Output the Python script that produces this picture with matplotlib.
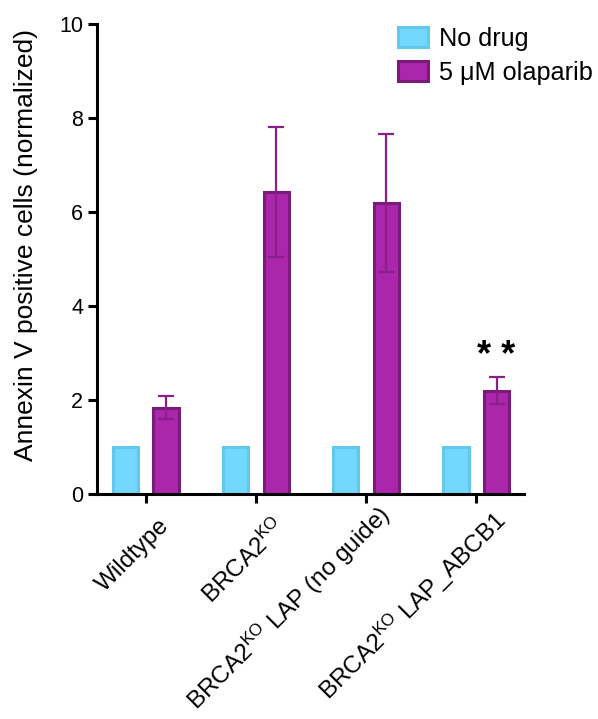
import matplotlib
matplotlib.use("Agg")
import matplotlib.pyplot as plt
import matplotlib.transforms as mtransforms
import numpy as np

plt.rcParams['font.family'] = ['Liberation Sans', 'DejaVu Sans']
plt.rcParams['mathtext.fontset'] = 'custom'
plt.rcParams['mathtext.rm'] = 'Liberation Sans'
plt.rcParams['mathtext.it'] = 'Liberation Sans'

categories = ['Wildtype', 'BRCA2$^{\\mathrm{KO}}$', 'BRCA2$^{\\mathrm{KO}}$ LAP (no guide)',
              'BRCA2$^{\\mathrm{KO}}$ LAP_ABCB1']
no_drug = [1.0, 1.0, 1.0, 1.0]
olaparib = [1.84, 6.43, 6.19, 2.20]
olaparib_err = [0.25, 1.38, 1.47, 0.28]
series_labels = ['No drug', '5 μM olaparib']
yticks = [0, 2, 4, 6, 8, 10]

cyan_fill = '#74D7FD'
cyan_edge = '#62C8EC'
purple_fill = '#AA26AA'
purple_edge = '#7A1A7A'

fig = plt.figure(figsize=(5.98, 7.19), dpi=100)
ax = fig.add_axes([0.1622, 0.3129, 0.7141, 0.6537])

x = np.arange(len(categories))
w = 0.235
off = 0.186
ax.bar(x - off, no_drug, w, color=cyan_fill, edgecolor=cyan_edge, linewidth=2.2,
       label=series_labels[0], zorder=2)
ax.bar(x + off, olaparib, w, color=purple_fill, edgecolor=purple_edge, linewidth=2.2,
       label=series_labels[1], zorder=2)
ax.errorbar(x + off, olaparib, yerr=olaparib_err, fmt='none', ecolor='#8A1F8A',
            elinewidth=1.6, capsize=5.8, capthick=1.6, zorder=3)

ax.text(x[3] + off, 2.72, '* *', ha='center', va='baseline',
        fontsize=26, fontweight='bold')

ax.set_xlim(-0.445, 3.436)
ax.set_ylim(0, 10)
ax.set_yticks(yticks)
ax.set_xticks(x)
ax.set_xticklabels(categories, rotation=45, ha='right', va='center', rotation_mode='anchor',
                   fontsize=17.5)
ax.tick_params(axis='y', labelsize=15.5, width=2.2, length=6.5)
ax.tick_params(axis='x', width=2.2, length=6.5, pad=0)
# pixel nudges of each rotated label (right, up)
nudges = [(20, -19), (26, -21), (20, -8), (26, -14)]
for lab, (dx, dy) in zip(ax.get_xticklabels(), nudges):
    tr = mtransforms.ScaledTranslation(dx / 100, dy / 100, fig.dpi_scale_trans)
    lab.set_transform(lab.get_transform() + tr)
for s in ['top', 'right']:
    ax.spines[s].set_visible(False)
for s in ['left', 'bottom']:
    ax.spines[s].set_linewidth(2.2)
ax.set_ylabel('Annexin V positive cells (normalized)', fontsize=19)
ax.yaxis.set_label_coords(-0.138, 0.53)

ax.legend(loc='upper left', bbox_to_anchor=(398 / 598, 1 - 27 / 719),
          bbox_transform=fig.transFigure, frameon=False, fontsize=18.2,
          borderpad=0, borderaxespad=0,
          handlelength=1.17, handleheight=0.82, handletextpad=0.45, labelspacing=0.38)

fig.savefig('out.png', dpi=100)
